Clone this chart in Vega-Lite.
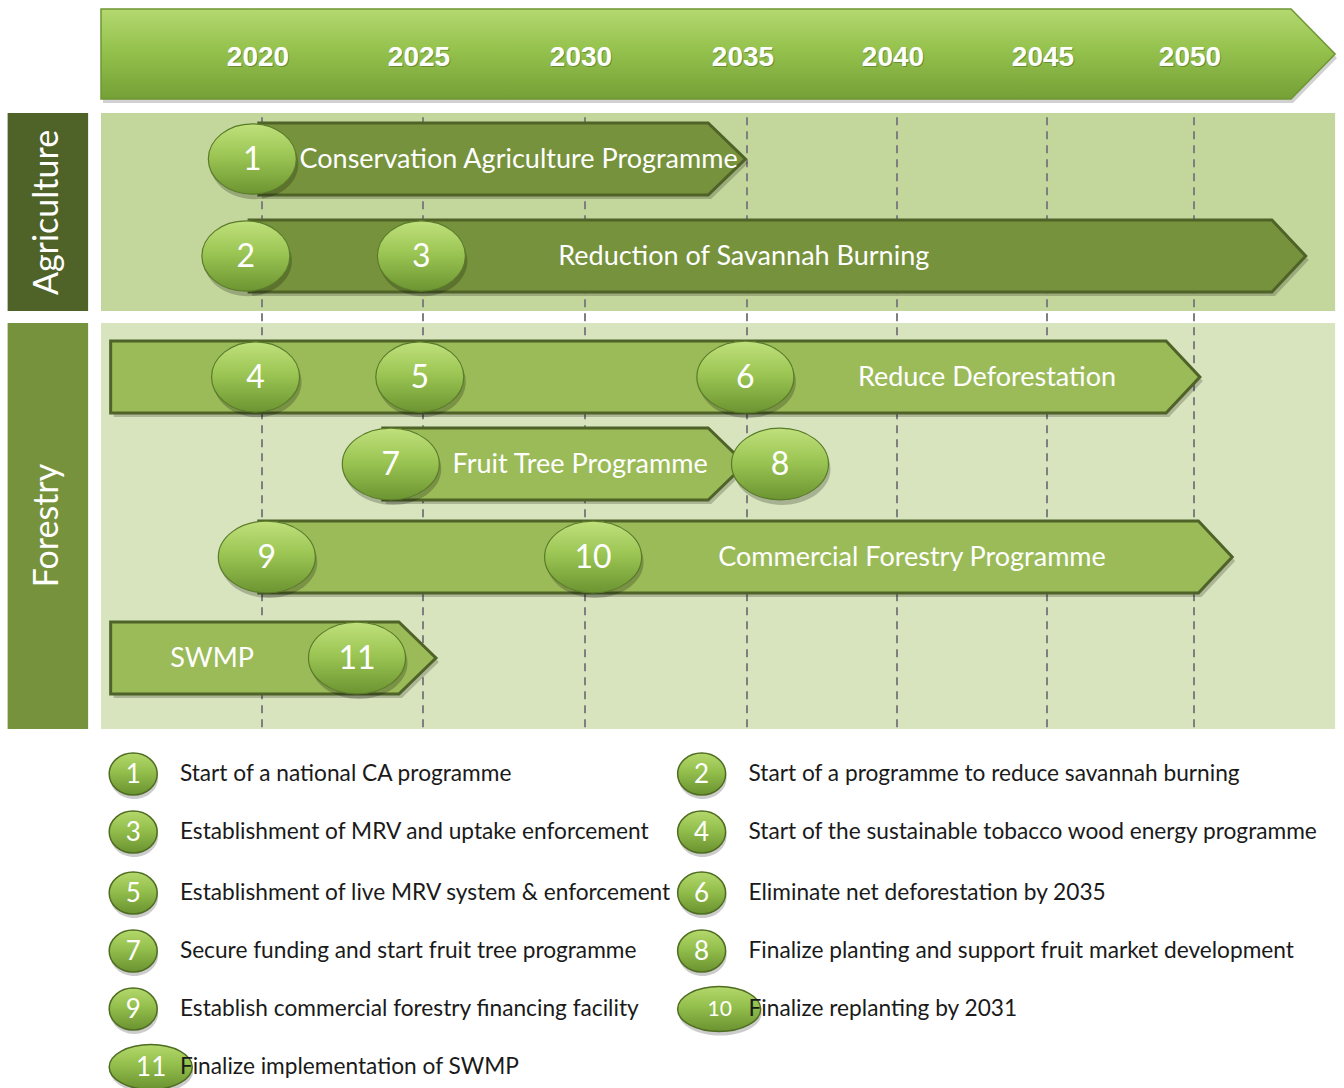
{
  "$schema": "https://vega.github.io/schema/vega-lite/v6.json",
  "width": 1344,
  "height": 1088,
  "autosize": "none",
  "padding": 0,
  "background": "white",
  "config": {"view": {"stroke": null}},
  "datasets": {
    "ticks": [{"tick": 2020}, {"tick": 2025}, {"tick": 2030}, {"tick": 2035}, {"tick": 2040}, {"tick": 2045}, {"tick": 2050}],
    "timeline": [{"start": 2015, "end": 2054.8}],
    "sectors": [
      {"sector": "Agriculture", "firstLane": 1, "lastLane": 2},
      {"sector": "Forestry", "firstLane": 3, "lastLane": 6}
    ],
    "programmes": [
      {"programme": "Conservation Agriculture Programme", "sector": "Agriculture", "row": 1, "start": 2019.9, "end": 2034.95, "labelYear": 2027.95},
      {"programme": "Reduction of Savannah Burning", "sector": "Agriculture", "row": 2, "start": 2019.6, "end": 2053.8, "labelYear": 2034.9},
      {"programme": "Reduce Deforestation", "sector": "Forestry", "row": 3, "start": 2015.3, "end": 2050.2, "labelYear": 2043.0},
      {"programme": "Fruit Tree Programme", "sector": "Forestry", "row": 4, "start": 2023.75, "end": 2034.95, "labelYear": 2029.85},
      {"programme": "Commercial Forestry Programme", "sector": "Forestry", "row": 5, "start": 2019.9, "end": 2051.3, "labelYear": 2040.5},
      {"programme": "SWMP", "sector": "Forestry", "row": 6, "start": 2015.3, "end": 2025.4, "labelYear": 2018.45}
    ],
    "milestones": [
      {"n": 1, "year": 2019.7, "lane": 1, "text": "Start of a national CA programme"},
      {"n": 2, "year": 2019.5, "lane": 2, "text": "Start of a programme to reduce savannah burning"},
      {"n": 3, "year": 2024.95, "lane": 2, "text": "Establishment of MRV and uptake enforcement"},
      {"n": 4, "year": 2019.8, "lane": 3, "text": "Start of the sustainable tobacco wood energy programme"},
      {"n": 5, "year": 2024.9, "lane": 3, "text": "Establishment of live MRV system & enforcement"},
      {"n": 6, "year": 2034.95, "lane": 3, "text": "Eliminate net deforestation by 2035"},
      {"n": 7, "year": 2024.0, "lane": 4, "text": "Secure funding and start fruit tree programme"},
      {"n": 8, "year": 2036.1, "lane": 4, "text": "Finalize planting and support fruit market development"},
      {"n": 9, "year": 2020.15, "lane": 5, "text": "Establish commercial forestry financing facility"},
      {"n": 10, "year": 2030.25, "lane": 5, "text": "Finalize replanting by 2031"},
      {"n": 11, "year": 2022.95, "lane": 6, "text": "Finalize implementation of SWMP"}
    ]
  },
  "layer": [
    {
      "data": {"name": "sectors"},
      "transform": [
        {"calculate": "datum.firstLane - 0.47", "as": "bandTop"},
        {"calculate": "datum.lastLane + 0.47", "as": "bandBottom"}
      ],
      "mark": {"type": "rect"},
      "encoding": {
        "x": {"datum": 2015, "type": "quantitative", "axis": null, "scale": {"domain": [2020, 2025, 2030, 2035, 2040, 2045, 2050], "range": [262, 423, 585, 747, 897, 1047, 1194], "nice": false, "zero": false}},
        "x2": {"datum": 2054.8},
        "y": {"field": "bandTop", "type": "quantitative", "axis": null, "scale": {"domain": [-0.4, 0, 0.4, 0.53, 0.6, 1, 1.4, 1.6, 2, 2.4, 2.47, 2.53, 2.6, 3, 3.4, 3.6, 4, 4.4, 4.6, 5, 5.4, 5.6, 6, 6.4, 6.47, 7, 8, 9, 10, 11, 12], "range": [9, 54, 99, 113, 123, 159, 195, 220, 256, 292, 311, 323, 341, 377, 413, 428, 464, 500, 521, 557, 593, 622, 658, 694, 729, 774, 832, 893, 951, 1009, 1067], "nice": false, "zero": false}},
        "y2": {"field": "bandBottom"},
        "color": {"condition": {"test": "datum.sector === 'Agriculture'", "value": "#c3d69b"}, "value": "#d7e4bd"}
      }
    },
    {
      "data": {"name": "sectors"},
      "transform": [
        {"calculate": "datum.firstLane - 0.47", "as": "bandTop"},
        {"calculate": "datum.lastLane + 0.47", "as": "bandBottom"}
      ],
      "mark": {"type": "rect"},
      "encoding": {
        "x": {"datum": 2012.1, "type": "quantitative", "axis": null, "scale": {"domain": [2020, 2025, 2030, 2035, 2040, 2045, 2050], "range": [262, 423, 585, 747, 897, 1047, 1194], "nice": false, "zero": false}},
        "x2": {"datum": 2014.6},
        "y": {"field": "bandTop", "type": "quantitative", "axis": null, "scale": {"domain": [-0.4, 0, 0.4, 0.53, 0.6, 1, 1.4, 1.6, 2, 2.4, 2.47, 2.53, 2.6, 3, 3.4, 3.6, 4, 4.4, 4.6, 5, 5.4, 5.6, 6, 6.4, 6.47, 7, 8, 9, 10, 11, 12], "range": [9, 54, 99, 113, 123, 159, 195, 220, 256, 292, 311, 323, 341, 377, 413, 428, 464, 500, 521, 557, 593, 622, 658, 694, 729, 774, 832, 893, 951, 1009, 1067], "nice": false, "zero": false}},
        "y2": {"field": "bandBottom"},
        "color": {"condition": {"test": "datum.sector === 'Agriculture'", "value": "#4f6228"}, "value": "#76923c"}
      }
    },
    {
      "data": {"name": "sectors"},
      "transform": [
        {"calculate": "(datum.firstLane + datum.lastLane) / 2", "as": "bandMid"}
      ],
      "mark": {"type": "text", "angle": 270, "font": "Lato", "fontSize": 34, "color": "white", "align": "center", "baseline": "middle", "yOffset": {"expr": "datum.sector === 'Forestry' ? 15 : 5"}},
      "encoding": {
        "x": {"datum": 2013.35, "type": "quantitative", "axis": null, "scale": {"domain": [2020, 2025, 2030, 2035, 2040, 2045, 2050], "range": [262, 423, 585, 747, 897, 1047, 1194], "nice": false, "zero": false}},
        "y": {"field": "bandMid", "type": "quantitative", "axis": null, "scale": {"domain": [-0.4, 0, 0.4, 0.53, 0.6, 1, 1.4, 1.6, 2, 2.4, 2.47, 2.53, 2.6, 3, 3.4, 3.6, 4, 4.4, 4.6, 5, 5.4, 5.6, 6, 6.4, 6.47, 7, 8, 9, 10, 11, 12], "range": [9, 54, 99, 113, 123, 159, 195, 220, 256, 292, 311, 323, 341, 377, 413, 428, 464, 500, 521, 557, 593, 622, 658, 694, 729, 774, 832, 893, 951, 1009, 1067], "nice": false, "zero": false}},
        "text": {"field": "sector", "type": "nominal"}
      }
    },
    {
      "data": {"name": "ticks"},
      "mark": {"type": "rule", "strokeDash": [8, 6], "strokeWidth": 2, "color": "#7f7f7f"},
      "encoding": {
        "x": {"field": "tick", "type": "quantitative", "axis": null, "scale": {"domain": [2020, 2025, 2030, 2035, 2040, 2045, 2050], "range": [262, 423, 585, 747, 897, 1047, 1194], "nice": false, "zero": false}},
        "y": {"datum": 0.56, "type": "quantitative", "axis": null, "scale": {"domain": [-0.4, 0, 0.4, 0.53, 0.6, 1, 1.4, 1.6, 2, 2.4, 2.47, 2.53, 2.6, 3, 3.4, 3.6, 4, 4.4, 4.6, 5, 5.4, 5.6, 6, 6.4, 6.47, 7, 8, 9, 10, 11, 12], "range": [9, 54, 99, 113, 123, 159, 195, 220, 256, 292, 311, 323, 341, 377, 413, 428, 464, 500, 521, 557, 593, 622, 658, 694, 729, 774, 832, 893, 951, 1009, 1067], "nice": false, "zero": false}},
        "y2": {"datum": 6.52}
      }
    },
    {
      "data": {"name": "timeline"},
      "transform": [
        {"calculate": "datum.end - 1.5", "as": "bodyEnd"},
        {"fold": ["start", "bodyEnd", "end"], "as": ["point", "hy"]},
        {"calculate": "datum.point === 'end' ? 0 : -0.4", "as": "htop"},
        {"calculate": "datum.point === 'end' ? 0 : 0.4", "as": "hbot"}
      ],
      "mark": {"type": "area", "orient": "vertical", "color": "#000000", "opacity": 0.18, "xOffset": 2, "yOffset": 4, "y2Offset": 4},
      "encoding": {
        "x": {"field": "hy", "type": "quantitative", "axis": null, "scale": {"domain": [2020, 2025, 2030, 2035, 2040, 2045, 2050], "range": [262, 423, 585, 747, 897, 1047, 1194], "nice": false, "zero": false}},
        "y": {"field": "htop", "type": "quantitative", "stack": null, "axis": null, "scale": {"domain": [-0.4, 0, 0.4, 0.53, 0.6, 1, 1.4, 1.6, 2, 2.4, 2.47, 2.53, 2.6, 3, 3.4, 3.6, 4, 4.4, 4.6, 5, 5.4, 5.6, 6, 6.4, 6.47, 7, 8, 9, 10, 11, 12], "range": [9, 54, 99, 113, 123, 159, 195, 220, 256, 292, 311, 323, 341, 377, 413, 428, 464, 500, 521, 557, 593, 622, 658, 694, 729, 774, 832, 893, 951, 1009, 1067], "nice": false, "zero": false}},
        "y2": {"field": "hbot"}
      }
    },
    {
      "data": {"name": "timeline"},
      "transform": [
        {"calculate": "datum.end - 1.5", "as": "bodyEnd"},
        {"fold": ["start", "bodyEnd", "end"], "as": ["point", "hy"]},
        {"calculate": "datum.point === 'end' ? 0 : -0.4", "as": "htop"},
        {"calculate": "datum.point === 'end' ? 0 : 0.4", "as": "hbot"}
      ],
      "mark": {"type": "area", "orient": "vertical", "fill": {"gradient": "linear", "x1": 0, "y1": 0, "x2": 0, "y2": 1, "stops": [{"offset": 0, "color": "#b3d870"}, {"offset": 0.45, "color": "#95c24d"}, {"offset": 1, "color": "#74a036"}]}, "stroke": "#6f9633", "strokeWidth": 1.5},
      "encoding": {
        "x": {"field": "hy", "type": "quantitative", "axis": null, "scale": {"domain": [2020, 2025, 2030, 2035, 2040, 2045, 2050], "range": [262, 423, 585, 747, 897, 1047, 1194], "nice": false, "zero": false}},
        "y": {"field": "htop", "type": "quantitative", "stack": null, "axis": null, "scale": {"domain": [-0.4, 0, 0.4, 0.53, 0.6, 1, 1.4, 1.6, 2, 2.4, 2.47, 2.53, 2.6, 3, 3.4, 3.6, 4, 4.4, 4.6, 5, 5.4, 5.6, 6, 6.4, 6.47, 7, 8, 9, 10, 11, 12], "range": [9, 54, 99, 113, 123, 159, 195, 220, 256, 292, 311, 323, 341, 377, 413, 428, 464, 500, 521, 557, 593, 622, 658, 694, 729, 774, 832, 893, 951, 1009, 1067], "nice": false, "zero": false}},
        "y2": {"field": "hbot"}
      }
    },
    {
      "data": {"name": "ticks"},
      "mark": {"type": "text", "font": "Liberation Sans", "fontWeight": "bold", "fontSize": 28, "color": "#3d5a1a", "opacity": 0.45, "align": "center", "baseline": "middle", "dx": -3, "dy": 5},
      "encoding": {
        "x": {"field": "tick", "type": "quantitative", "axis": null, "scale": {"domain": [2020, 2025, 2030, 2035, 2040, 2045, 2050], "range": [262, 423, 585, 747, 897, 1047, 1194], "nice": false, "zero": false}},
        "y": {"datum": 0, "type": "quantitative", "axis": null, "scale": {"domain": [-0.4, 0, 0.4, 0.53, 0.6, 1, 1.4, 1.6, 2, 2.4, 2.47, 2.53, 2.6, 3, 3.4, 3.6, 4, 4.4, 4.6, 5, 5.4, 5.6, 6, 6.4, 6.47, 7, 8, 9, 10, 11, 12], "range": [9, 54, 99, 113, 123, 159, 195, 220, 256, 292, 311, 323, 341, 377, 413, 428, 464, 500, 521, 557, 593, 622, 658, 694, 729, 774, 832, 893, 951, 1009, 1067], "nice": false, "zero": false}},
        "text": {"field": "tick", "type": "nominal"}
      }
    },
    {
      "data": {"name": "ticks"},
      "mark": {"type": "text", "font": "Liberation Sans", "fontWeight": "bold", "fontSize": 28, "color": "white", "align": "center", "baseline": "middle", "dx": -4, "dy": 4},
      "encoding": {
        "x": {"field": "tick", "type": "quantitative", "axis": null, "scale": {"domain": [2020, 2025, 2030, 2035, 2040, 2045, 2050], "range": [262, 423, 585, 747, 897, 1047, 1194], "nice": false, "zero": false}},
        "y": {"datum": 0, "type": "quantitative", "axis": null, "scale": {"domain": [-0.4, 0, 0.4, 0.53, 0.6, 1, 1.4, 1.6, 2, 2.4, 2.47, 2.53, 2.6, 3, 3.4, 3.6, 4, 4.4, 4.6, 5, 5.4, 5.6, 6, 6.4, 6.47, 7, 8, 9, 10, 11, 12], "range": [9, 54, 99, 113, 123, 159, 195, 220, 256, 292, 311, 323, 341, 377, 413, 428, 464, 500, 521, 557, 593, 622, 658, 694, 729, 774, 832, 893, 951, 1009, 1067], "nice": false, "zero": false}},
        "text": {"field": "tick", "type": "nominal"}
      }
    },
    {
      "data": {"name": "programmes"},
      "transform": [
        {"calculate": "datum.end - 1.15", "as": "bodyEnd"},
        {"fold": ["start", "bodyEnd", "end"], "as": ["point", "ay"]},
        {"calculate": "datum.point === 'end' ? datum.row : datum.row - 0.4", "as": "atop"},
        {"calculate": "datum.point === 'end' ? datum.row : datum.row + 0.4", "as": "abot"}
      ],
      "mark": {"type": "area", "orient": "vertical", "color": "#000000", "opacity": 0.2, "xOffset": 3, "yOffset": 4, "y2Offset": 4},
      "encoding": {
        "x": {"field": "ay", "type": "quantitative", "axis": null, "scale": {"domain": [2020, 2025, 2030, 2035, 2040, 2045, 2050], "range": [262, 423, 585, 747, 897, 1047, 1194], "nice": false, "zero": false}},
        "y": {"field": "atop", "type": "quantitative", "stack": null, "axis": null, "scale": {"domain": [-0.4, 0, 0.4, 0.53, 0.6, 1, 1.4, 1.6, 2, 2.4, 2.47, 2.53, 2.6, 3, 3.4, 3.6, 4, 4.4, 4.6, 5, 5.4, 5.6, 6, 6.4, 6.47, 7, 8, 9, 10, 11, 12], "range": [9, 54, 99, 113, 123, 159, 195, 220, 256, 292, 311, 323, 341, 377, 413, 428, 464, 500, 521, 557, 593, 622, 658, 694, 729, 774, 832, 893, 951, 1009, 1067], "nice": false, "zero": false}},
        "y2": {"field": "abot"},
        "detail": {"field": "programme", "type": "nominal"}
      }
    },
    {
      "data": {"name": "programmes"},
      "transform": [
        {"calculate": "datum.end - 1.15", "as": "bodyEnd"},
        {"fold": ["start", "bodyEnd", "end"], "as": ["point", "ay"]},
        {"calculate": "datum.point === 'end' ? datum.row : datum.row - 0.4", "as": "atop"},
        {"calculate": "datum.point === 'end' ? datum.row : datum.row + 0.4", "as": "abot"}
      ],
      "mark": {"type": "area", "orient": "vertical", "stroke": "#4f6228", "strokeWidth": 3, "strokeJoin": "miter"},
      "encoding": {
        "x": {"field": "ay", "type": "quantitative", "axis": null, "scale": {"domain": [2020, 2025, 2030, 2035, 2040, 2045, 2050], "range": [262, 423, 585, 747, 897, 1047, 1194], "nice": false, "zero": false}},
        "y": {"field": "atop", "type": "quantitative", "stack": null, "axis": null, "scale": {"domain": [-0.4, 0, 0.4, 0.53, 0.6, 1, 1.4, 1.6, 2, 2.4, 2.47, 2.53, 2.6, 3, 3.4, 3.6, 4, 4.4, 4.6, 5, 5.4, 5.6, 6, 6.4, 6.47, 7, 8, 9, 10, 11, 12], "range": [9, 54, 99, 113, 123, 159, 195, 220, 256, 292, 311, 323, 341, 377, 413, 428, 464, 500, 521, 557, 593, 622, 658, 694, 729, 774, 832, 893, 951, 1009, 1067], "nice": false, "zero": false}},
        "y2": {"field": "abot"},
        "detail": {"field": "programme", "type": "nominal"},
        "color": {"condition": {"test": "datum.sector === 'Agriculture'", "value": "#76923c"}, "value": "#9bbb59"}
      }
    },
    {
      "data": {"name": "programmes"},
      "mark": {"type": "text", "font": "Lato", "fontSize": 27, "color": "white", "align": "center", "baseline": "middle", "dy": 1},
      "encoding": {
        "x": {"field": "labelYear", "type": "quantitative", "axis": null, "scale": {"domain": [2020, 2025, 2030, 2035, 2040, 2045, 2050], "range": [262, 423, 585, 747, 897, 1047, 1194], "nice": false, "zero": false}},
        "y": {"field": "row", "type": "quantitative", "axis": null, "scale": {"domain": [-0.4, 0, 0.4, 0.53, 0.6, 1, 1.4, 1.6, 2, 2.4, 2.47, 2.53, 2.6, 3, 3.4, 3.6, 4, 4.4, 4.6, 5, 5.4, 5.6, 6, 6.4, 6.47, 7, 8, 9, 10, 11, 12], "range": [9, 54, 99, 113, 123, 159, 195, 220, 256, 292, 311, 323, 341, 377, 413, 428, 464, 500, 521, 557, 593, 622, 658, 694, 729, 774, 832, 893, 951, 1009, 1067], "nice": false, "zero": false}},
        "text": {"field": "programme", "type": "nominal"}
      }
    },
    {
      "data": {"name": "milestones"},
      "mark": {"type": "point", "filled": true, "color": "#000000", "opacity": 0.22, "xOffset": 2, "yOffset": 5},
      "encoding": {
        "x": {"field": "year", "type": "quantitative", "axis": null, "scale": {"domain": [2020, 2025, 2030, 2035, 2040, 2045, 2050], "range": [262, 423, 585, 747, 897, 1047, 1194], "nice": false, "zero": false}},
        "y": {"field": "lane", "type": "quantitative", "axis": null, "scale": {"domain": [-0.4, 0, 0.4, 0.53, 0.6, 1, 1.4, 1.6, 2, 2.4, 2.47, 2.53, 2.6, 3, 3.4, 3.6, 4, 4.4, 4.6, 5, 5.4, 5.6, 6, 6.4, 6.47, 7, 8, 9, 10, 11, 12], "range": [9, 54, 99, 113, 123, 159, 195, 220, 256, 292, 311, 323, 341, 377, 413, 428, 464, 500, 521, 557, 593, 622, 658, 694, 729, 774, 832, 893, 951, 1009, 1067], "nice": false, "zero": false}},
        "shape": {"condition": {"test": "datum.n >= 6", "value": "M-1,0 A1,0.74 0 1,1 1,0 A1,0.74 0 1,1 -1,0 Z"}, "value": "M-1,0 A1,0.8 0 1,1 1,0 A1,0.8 0 1,1 -1,0 Z"},
        "size": {"condition": {"test": "datum.n >= 6", "value": 9409}, "value": 7744}
      }
    },
    {
      "data": {"name": "milestones"},
      "mark": {"type": "point", "filled": true, "opacity": 1, "fill": {"gradient": "linear", "x1": 0, "y1": 0, "x2": 0, "y2": 1, "stops": [{"offset": 0, "color": "#c0e07c"}, {"offset": 0.45, "color": "#9cc654"}, {"offset": 1, "color": "#6c9431"}]}, "stroke": "#5a7b2a", "strokeWidth": 1.2},
      "encoding": {
        "x": {"field": "year", "type": "quantitative", "axis": null, "scale": {"domain": [2020, 2025, 2030, 2035, 2040, 2045, 2050], "range": [262, 423, 585, 747, 897, 1047, 1194], "nice": false, "zero": false}},
        "y": {"field": "lane", "type": "quantitative", "axis": null, "scale": {"domain": [-0.4, 0, 0.4, 0.53, 0.6, 1, 1.4, 1.6, 2, 2.4, 2.47, 2.53, 2.6, 3, 3.4, 3.6, 4, 4.4, 4.6, 5, 5.4, 5.6, 6, 6.4, 6.47, 7, 8, 9, 10, 11, 12], "range": [9, 54, 99, 113, 123, 159, 195, 220, 256, 292, 311, 323, 341, 377, 413, 428, 464, 500, 521, 557, 593, 622, 658, 694, 729, 774, 832, 893, 951, 1009, 1067], "nice": false, "zero": false}},
        "shape": {"condition": {"test": "datum.n >= 6", "value": "M-1,0 A1,0.74 0 1,1 1,0 A1,0.74 0 1,1 -1,0 Z"}, "value": "M-1,0 A1,0.8 0 1,1 1,0 A1,0.8 0 1,1 -1,0 Z"},
        "size": {"condition": {"test": "datum.n >= 6", "value": 9409}, "value": 7744}
      }
    },
    {
      "data": {"name": "milestones"},
      "mark": {"type": "text", "font": "Lato", "fontSize": 32, "color": "white", "align": "center", "baseline": "middle", "dy": 1},
      "encoding": {
        "x": {"field": "year", "type": "quantitative", "axis": null, "scale": {"domain": [2020, 2025, 2030, 2035, 2040, 2045, 2050], "range": [262, 423, 585, 747, 897, 1047, 1194], "nice": false, "zero": false}},
        "y": {"field": "lane", "type": "quantitative", "axis": null, "scale": {"domain": [-0.4, 0, 0.4, 0.53, 0.6, 1, 1.4, 1.6, 2, 2.4, 2.47, 2.53, 2.6, 3, 3.4, 3.6, 4, 4.4, 4.6, 5, 5.4, 5.6, 6, 6.4, 6.47, 7, 8, 9, 10, 11, 12], "range": [9, 54, 99, 113, 123, 159, 195, 220, 256, 292, 311, 323, 341, 377, 413, 428, 464, 500, 521, 557, 593, 622, 658, 694, 729, 774, 832, 893, 951, 1009, 1067], "nice": false, "zero": false}},
        "text": {"field": "n", "type": "nominal"}
      }
    },
    {
      "data": {"name": "milestones"},
      "transform": [
        {"calculate": "(datum.n - 1) % 2 === 0 ? 2016.0 : 2033.6", "as": "keyYear"},
        {"calculate": "7 + floor((datum.n - 1) / 2)", "as": "legendRow"}
      ],
      "mark": {"type": "point", "filled": true, "color": "#000000", "opacity": 0.2, "xOffset": 1, "yOffset": 4, "size": 2304},
      "encoding": {
        "x": {"field": "keyYear", "type": "quantitative", "axis": null, "scale": {"domain": [2020, 2025, 2030, 2035, 2040, 2045, 2050], "range": [262, 423, 585, 747, 897, 1047, 1194], "nice": false, "zero": false}},
        "y": {"field": "legendRow", "type": "quantitative", "axis": null, "scale": {"domain": [-0.4, 0, 0.4, 0.53, 0.6, 1, 1.4, 1.6, 2, 2.4, 2.47, 2.53, 2.6, 3, 3.4, 3.6, 4, 4.4, 4.6, 5, 5.4, 5.6, 6, 6.4, 6.47, 7, 8, 9, 10, 11, 12], "range": [9, 54, 99, 113, 123, 159, 195, 220, 256, 292, 311, 323, 341, 377, 413, 428, 464, 500, 521, 557, 593, 622, 658, 694, 729, 774, 832, 893, 951, 1009, 1067], "nice": false, "zero": false}},
        "shape": {"condition": {"test": "datum.n >= 10", "value": "M-1,0 A1.73,0.94 0 1,1 2.46,0 A1.73,0.94 0 1,1 -1,0 Z"}, "value": "M-1,0 A1,0.875 0 1,1 1,0 A1,0.875 0 1,1 -1,0 Z"}
      }
    },
    {
      "data": {"name": "milestones"},
      "transform": [
        {"calculate": "(datum.n - 1) % 2 === 0 ? 2016.0 : 2033.6", "as": "keyYear"},
        {"calculate": "7 + floor((datum.n - 1) / 2)", "as": "legendRow"}
      ],
      "mark": {"type": "point", "filled": true, "opacity": 1, "size": 2304, "fill": {"gradient": "linear", "x1": 0, "y1": 0, "x2": 0, "y2": 1, "stops": [{"offset": 0, "color": "#b4d86c"}, {"offset": 0.45, "color": "#93bf4c"}, {"offset": 1, "color": "#6a9230"}]}, "stroke": "#4f6d22", "strokeWidth": 1.5},
      "encoding": {
        "x": {"field": "keyYear", "type": "quantitative", "axis": null, "scale": {"domain": [2020, 2025, 2030, 2035, 2040, 2045, 2050], "range": [262, 423, 585, 747, 897, 1047, 1194], "nice": false, "zero": false}},
        "y": {"field": "legendRow", "type": "quantitative", "axis": null, "scale": {"domain": [-0.4, 0, 0.4, 0.53, 0.6, 1, 1.4, 1.6, 2, 2.4, 2.47, 2.53, 2.6, 3, 3.4, 3.6, 4, 4.4, 4.6, 5, 5.4, 5.6, 6, 6.4, 6.47, 7, 8, 9, 10, 11, 12], "range": [9, 54, 99, 113, 123, 159, 195, 220, 256, 292, 311, 323, 341, 377, 413, 428, 464, 500, 521, 557, 593, 622, 658, 694, 729, 774, 832, 893, 951, 1009, 1067], "nice": false, "zero": false}},
        "shape": {"condition": {"test": "datum.n >= 10", "value": "M-1,0 A1.73,0.94 0 1,1 2.46,0 A1.73,0.94 0 1,1 -1,0 Z"}, "value": "M-1,0 A1,0.875 0 1,1 1,0 A1,0.875 0 1,1 -1,0 Z"}
      }
    },
    {
      "data": {"name": "milestones"},
      "transform": [
        {"calculate": "(datum.n - 1) % 2 === 0 ? 2016.0 : 2033.6", "as": "keyYear"},
        {"calculate": "7 + floor((datum.n - 1) / 2)", "as": "legendRow"}
      ],
      "mark": {"type": "text", "font": "Lato", "color": "white", "align": "center", "baseline": "middle", "dy": 1, "xOffset": {"expr": "datum.n >= 10 ? 18 : 0"}},
      "encoding": {
        "x": {"field": "keyYear", "type": "quantitative", "axis": null, "scale": {"domain": [2020, 2025, 2030, 2035, 2040, 2045, 2050], "range": [262, 423, 585, 747, 897, 1047, 1194], "nice": false, "zero": false}},
        "y": {"field": "legendRow", "type": "quantitative", "axis": null, "scale": {"domain": [-0.4, 0, 0.4, 0.53, 0.6, 1, 1.4, 1.6, 2, 2.4, 2.47, 2.53, 2.6, 3, 3.4, 3.6, 4, 4.4, 4.6, 5, 5.4, 5.6, 6, 6.4, 6.47, 7, 8, 9, 10, 11, 12], "range": [9, 54, 99, 113, 123, 159, 195, 220, 256, 292, 311, 323, 341, 377, 413, 428, 464, 500, 521, 557, 593, 622, 658, 694, 729, 774, 832, 893, 951, 1009, 1067], "nice": false, "zero": false}},
        "text": {"field": "n", "type": "nominal"},
        "size": {"condition": {"test": "datum.n === 10", "value": 21}, "value": 26}
      }
    },
    {
      "data": {"name": "milestones"},
      "transform": [
        {"calculate": "(datum.n - 1) % 2 === 0 ? 2017.45 : 2035.05", "as": "textYear"},
        {"calculate": "7 + floor((datum.n - 1) / 2)", "as": "legendRow"}
      ],
      "mark": {"type": "text", "font": "Lato", "fontSize": 22.7, "color": "#1a1a1a", "align": "left", "baseline": "middle"},
      "encoding": {
        "x": {"field": "textYear", "type": "quantitative", "axis": null, "scale": {"domain": [2020, 2025, 2030, 2035, 2040, 2045, 2050], "range": [262, 423, 585, 747, 897, 1047, 1194], "nice": false, "zero": false}},
        "y": {"field": "legendRow", "type": "quantitative", "axis": null, "scale": {"domain": [-0.4, 0, 0.4, 0.53, 0.6, 1, 1.4, 1.6, 2, 2.4, 2.47, 2.53, 2.6, 3, 3.4, 3.6, 4, 4.4, 4.6, 5, 5.4, 5.6, 6, 6.4, 6.47, 7, 8, 9, 10, 11, 12], "range": [9, 54, 99, 113, 123, 159, 195, 220, 256, 292, 311, 323, 341, 377, 413, 428, 464, 500, 521, 557, 593, 622, 658, 694, 729, 774, 832, 893, 951, 1009, 1067], "nice": false, "zero": false}},
        "text": {"field": "text", "type": "nominal"}
      }
    }
  ]
}
